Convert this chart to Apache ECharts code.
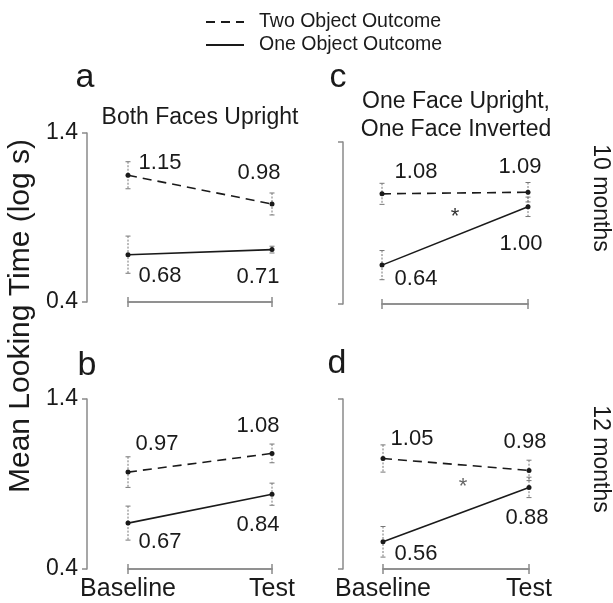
<!DOCTYPE html>
<html><head><meta charset="utf-8">
<script src="https://cdn.jsdelivr.net/npm/echarts@6/dist/echarts.min.js"></script>
<style>html,body{margin:0;padding:0;background:#fff}#c{width:613px;height:603px}</style>
</head><body><div id="c"></div>
<script>
// ---- data ----
const categories = ['Baseline', 'Test'];
const yTicks = [0.4, 1.4];
const seriesNames = ['Two Object Outcome', 'One Object Outcome'];

const twoObjA = [1.15, 0.98];
const oneObjA = [0.68, 0.71];
const twoObjB = [0.97, 1.08];
const oneObjB = [0.67, 0.84];
const twoObjC = [1.08, 1.09];
const oneObjC = [0.64, 1.00];
const twoObjD = [1.05, 0.98];
const oneObjD = [0.56, 0.88];

// error bar half-lengths
const twoErrA = [0.08, 0.065];
const oneErrA = [0.11, 0.02];
const twoErrB = [0.09, 0.055];
const oneErrB = [0.10, 0.065];
const twoErrC = [0.065, 0.06];
const oneErrC = [0.09, 0.06];
const twoErrD = [0.08, 0.06];
const oneErrD = [0.09, 0.06];

const panelLetters = ['a', 'b', 'c', 'd'];
const panelTitleA = ['Both Faces Upright'];
const panelTitleC = ['One Face Upright,', 'One Face Inverted'];
const ageLabels = ['10 months', '12 months'];
const yAxisName = 'Mean Looking Time (log s)';

// ---- layout (pixels) ----
const FONT = '"Liberation Sans", Arial, Helvetica, sans-serif';
const panels = [
  {two: twoObjA, one: oneObjA, twoErr: twoErrA, oneErr: oneErrA, left: 128, top: 133, width: 144, height: 169, yOffset: 41, showY: true, showX: false,
   twoOff: [[32, -12], [-13, -31]], oneOff: [[32, 21], [-14, 27]]},
  {two: twoObjB, one: oneObjB, twoErr: twoErrB, oneErr: oneErrB, left: 128, top: 399, width: 144, height: 170, yOffset: 41, showY: true, showX: true,
   twoOff: [[29, -28], [-14, -27]], oneOff: [[32, 19], [-14, 31]]},
  {two: twoObjC, one: oneObjC, twoErr: twoErrC, oneErr: oneErrC, left: 382, top: 142, width: 146, height: 162, yOffset: 39, showY: false, showX: false,
   twoOff: [[34, -22], [-8, -25]], oneOff: [[34, 14], [-7, 37]]},
  {two: twoObjD, one: oneObjD, twoErr: twoErrD, oneErr: oneErrD, left: 383, top: 399, width: 146, height: 170, yOffset: 40, showY: false, showX: true,
   twoOff: [[29, -20], [-4, -28]], oneOff: [[33, 12], [-2, 31]]}
];

const AXIS_COLOR = '#8a8a8a';
const INK = '#1a1a1a';

const grid = [], xAxis = [], yAxis = [], series = [];
panels.forEach((p, i) => {
  grid.push({left: p.left, top: p.top, width: p.width, height: p.height});
  // primary x axis (bottom, ticks down)
  xAxis.push({
    type: 'value', gridIndex: i, min: 0, max: 1, interval: 1, position: 'bottom',
    axisLine: {show: true, onZero: false, lineStyle: {color: AXIS_COLOR, width: 1.5}},
    axisTick: {show: true, length: 5, lineStyle: {color: AXIS_COLOR, width: 1.5}},
    axisLabel: {show: p.showX, margin: 8, fontSize: 25, color: INK, fontFamily: FONT,
      formatter: v => categories[Math.round(v)]},
    splitLine: {show: false}
  });
  // secondary x axis overlaid at bottom, ticks up
  xAxis.push({
    type: 'value', gridIndex: i, min: 0, max: 1, interval: 1, position: 'top', offset: -p.height,
    axisLine: {show: true, onZero: false, lineStyle: {color: AXIS_COLOR, width: 1.5}},
    axisTick: {show: true, length: 5, lineStyle: {color: AXIS_COLOR, width: 1.5}},
    axisLabel: {show: false},
    splitLine: {show: false}
  });
  yAxis.push({
    type: 'value', gridIndex: i, min: yTicks[0], max: yTicks[1], position: 'left', offset: p.yOffset,
    axisLine: {show: true, onZero: false, lineStyle: {color: AXIS_COLOR, width: 1.5}},
    axisTick: {show: true, length: 5, customValues: yTicks, lineStyle: {color: AXIS_COLOR, width: 1.5}},
    axisLabel: {show: p.showY, customValues: yTicks, margin: 9, fontSize: 23, color: INK, fontFamily: FONT,
      formatter: v => v.toFixed(1)},
    splitLine: {show: false}
  });

  const mkLine = (name, vals, offs, dashed) => ({
    type: 'line', name, xAxisIndex: 2 * i, yAxisIndex: i,
    data: vals.map((v, j) => ({value: [j, v], label: {offset: offs[j]}})),
    symbol: 'circle', symbolSize: 5, showSymbol: true,
    itemStyle: {color: INK},
    lineStyle: {color: INK, width: 1.6, type: dashed ? [9, 6] : 'solid'},
    label: {show: true, position: 'inside', fontSize: 22, color: INK, fontFamily: FONT,
      formatter: prm => prm.value[1].toFixed(2)},
    z: 3, animation: false, silent: true
  });
  const mkErr = (vals, errs) => ({
    type: 'custom', xAxisIndex: 2 * i, yAxisIndex: i,
    data: vals.map((v, j) => [j, v, errs[j]]),
    encode: {x: 0, y: 1},
    renderItem: (params, api) => {
      const x = api.value(0), v = api.value(1), e = api.value(2);
      const hi = api.coord([x, v + e]), lo = api.coord([x, v - e]);
      const w = 2.5;
      return {type: 'group', children: [
        {type: 'line', shape: {x1: hi[0], y1: hi[1], x2: lo[0], y2: lo[1]}, style: {stroke: '#777', lineWidth: 1, lineDash: [2, 1.5]}},
        {type: 'line', shape: {x1: hi[0] - w, y1: hi[1], x2: hi[0] + w, y2: hi[1]}, style: {stroke: '#777', lineWidth: 1}},
        {type: 'line', shape: {x1: lo[0] - w, y1: lo[1], x2: lo[0] + w, y2: lo[1]}, style: {stroke: '#777', lineWidth: 1}}
      ]};
    },
    z: 2, animation: false, silent: true
  });
  series.push(mkErr(p.two, p.twoErr), mkErr(p.one, p.oneErr));
  series.push(mkLine(seriesNames[0], p.two, p.twoOff, true));
  series.push(mkLine(seriesNames[1], p.one, p.oneOff, false));
});

const txt = (text, x, y, size, opts = {}) => ({
  type: 'text', x, y, rotation: opts.rotation || 0, silent: true,
  style: {text, fill: opts.fill || INK, font: `${size}px ${FONT}`, align: 'center', verticalAlign: 'middle'}
});

const graphic = [
  txt(panelLetters[0], 85, 78, 34),
  txt(panelLetters[1], 87, 366, 34),
  txt(panelLetters[2], 338, 78, 34),
  txt(panelLetters[3], 337, 364, 34),
  txt(panelTitleA[0], 200, 118, 23),
  txt(panelTitleC[0], 456, 102, 23),
  txt(panelTitleC[1], 456, 130, 23),
  txt(ageLabels[0], 600, 198, 23, {rotation: -Math.PI / 2}),
  txt(ageLabels[1], 600, 459, 23, {rotation: -Math.PI / 2}),
  txt(yAxisName, 21, 316, 30, {rotation: Math.PI / 2}),
  txt('*', 455, 217, 22, {fill: '#333'}),
  txt('*', 463, 487, 22, {fill: '#666'})
];

const chart = echarts.init(document.getElementById('c'), null, {renderer: 'canvas'});
chart.setOption({
  backgroundColor: '#fff',
  animation: false,
  legend: {
    data: seriesNames, orient: 'vertical', left: 200, top: 7,
    itemWidth: 38, itemHeight: 14, itemGap: 3,
    itemStyle: {opacity: 0},
    textStyle: {fontSize: 19.5, lineHeight: 20, color: INK, fontFamily: FONT, padding: [0, 0, 0, 10]},
    selectedMode: false
  },
  grid, xAxis, yAxis, series, graphic
});
</script>
</body></html>
